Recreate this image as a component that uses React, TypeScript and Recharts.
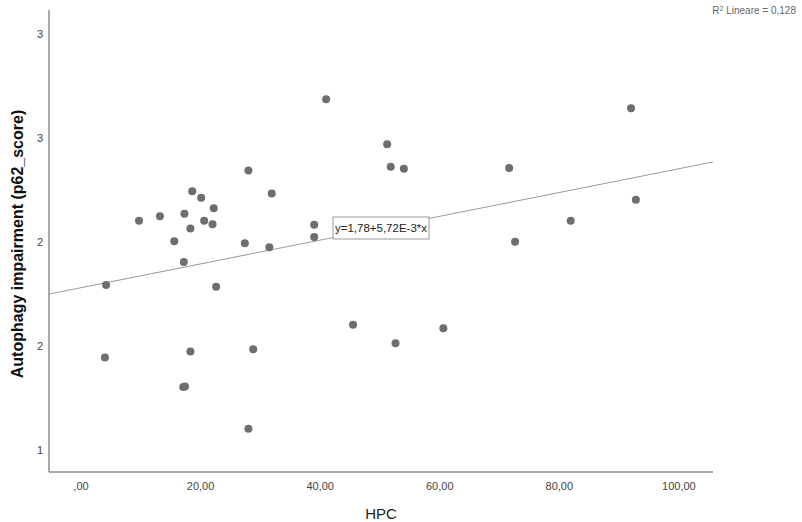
import {
  ScatterChart,
  Scatter,
  XAxis,
  YAxis,
  ReferenceLine,
  ReferenceDot,
} from 'recharts'

// HPC values and p62 scores
const hpc = [
  4.2, 4.0, 9.7, 13.2, 15.6, 17.3, 17.2, 18.6, 20.1, 18.3, 20.6, 22.2, 22.0,
  22.6, 18.3, 17.1, 17.4, 27.4, 28.0, 28.0, 28.8, 31.5, 31.9, 39.0, 39.0,
  41.0, 45.5, 51.2, 51.8, 54.0, 52.6, 60.6, 71.6, 72.6, 81.9, 92.0, 92.8,
]
const p62 = [
  1.793, 1.444, 2.102, 2.124, 2.003, 2.135, 1.904, 2.244, 2.213, 2.064, 2.102,
  2.162, 2.085, 1.784, 1.473, 1.303, 1.305, 1.994, 2.344, 1.102, 1.484, 1.975,
  2.233, 2.083, 2.024, 2.686, 1.602, 2.47, 2.362, 2.352, 1.513, 1.585, 2.356,
  2.001, 2.102, 2.643, 2.203,
]

const xTicks = [0, 20, 40, 60, 80, 100]
const yTicks = [1, 1.5, 2, 2.5, 3]
const xDomain: [number, number] = [-5.35, 105.7]
const yDomain: [number, number] = [0.894, 3.115]

// linear fit reported by SPSS
const intercept = 1.78
const slope = 5.72e-3
const r2 = '0,128'

const FONT = '"Liberation Sans", Arial, sans-serif'

const data = hpc.map((x, i) => ({ x, y: p62[i] }))
const fit = (x: number) => intercept + slope * x
const midX = (xDomain[0] + xDomain[1]) / 2

function fmtX(v: number): string {
  if (v === 0) return ',00'
  return v.toFixed(2).replace('.', ',')
}

function Dot(props: any) {
  return <circle cx={props.cx} cy={props.cy} r={4} fill="#6e6e6e" />
}

function EquationBox(props: any) {
  const { x, y } = props.viewBox ?? {}
  if (x == null || y == null) return null
  const w = 96
  const h = 22
  return (
    <g>
      <rect x={x - w / 2} y={y - h / 2} width={w} height={h} fill="#fff" stroke="#9a9a9a" />
      <text
        x={x}
        y={y + 4}
        textAnchor="middle"
        fontSize={11.5}
        fontFamily={FONT}
        fill="#222"
      >
        y=1,78+5,72E-3*x
      </text>
    </g>
  )
}

export default function App() {
  return (
    <div style={{ position: 'absolute', left: 0, top: 0, width: 802, height: 522, background: '#fff' }}>
      <ScatterChart
        width={802}
        height={522}
        margin={{ top: 10, right: 89, bottom: 0, left: 0 }}
      >
        <XAxis
          type="number"
          dataKey="x"
          domain={xDomain}
          ticks={xTicks}
          tickFormatter={fmtX}
          allowDataOverflow
          height={50}
          tickLine={false}
          tickSize={8}
          axisLine={{ stroke: '#8c8c8c', strokeWidth: 1.5 }}
          tick={{ fill: '#444', fontSize: 11, fontFamily: FONT }}
          label={{
            value: 'HPC',
            position: 'insideBottom',
            offset: 3,
            style: { fontSize: 15, fill: '#222', fontFamily: FONT },
          }}
        />
        <YAxis
          type="number"
          dataKey="y"
          domain={yDomain}
          ticks={yTicks}
          tickFormatter={(v: number) => String(Math.round(v))}
          allowDataOverflow
          width={49}
          tickLine={false}
          tickSize={4}
          axisLine={{ stroke: '#8c8c8c', strokeWidth: 1.5 }}
          tick={{ fill: '#444', fontSize: 11, fontFamily: FONT }}
          label={{
            value: 'Autophagy impairment (p62_score)',
            angle: -90,
            position: 'insideLeft',
            offset: 17,
            dy: 3,
            style: {
              textAnchor: 'middle',
              fontSize: 16,
              fontWeight: 'bold',
              fill: '#111',
              fontFamily: FONT,
            },
          }}
        />
        <ReferenceLine
          segment={[
            { x: xDomain[0], y: fit(xDomain[0]) },
            { x: xDomain[1], y: fit(xDomain[1]) },
          ]}
          stroke="#9a9a9a"
          strokeWidth={1}
        />
        <Scatter data={data} shape={Dot} isAnimationActive={false} />
        <ReferenceDot
          x={midX}
          y={fit(midX)}
          r={0}
          fill="none"
          stroke="none"
          label={<EquationBox />}
        />
      </ScatterChart>
      <div
        style={{
          position: 'absolute',
          top: 5,
          right: 6,
          fontSize: 10,
          lineHeight: '12px',
          color: '#666',
          fontFamily: FONT,
          whiteSpace: 'nowrap',
        }}
      >
        R<sup style={{ fontSize: 7, verticalAlign: 'top', lineHeight: '8px' }}>2</sup> Lineare = {r2}
      </div>
    </div>
  )
}
